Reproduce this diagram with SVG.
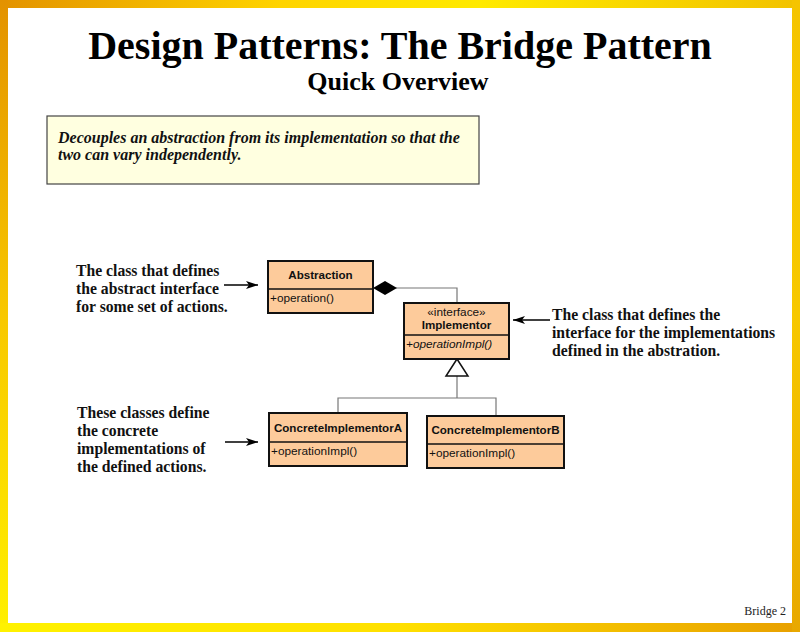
<svg xmlns="http://www.w3.org/2000/svg" width="800" height="632" viewBox="0 0 800 632">
  <defs>
    <linearGradient id="gTop" x1="0" y1="0" x2="1" y2="0">
      <stop offset="0" stop-color="#E39200"/>
      <stop offset="0.35" stop-color="#FFD400"/>
      <stop offset="0.6" stop-color="#FFEA00"/>
      <stop offset="1" stop-color="#F2C200"/>
    </linearGradient>
    <linearGradient id="gLeft" x1="0" y1="0" x2="0" y2="1">
      <stop offset="0" stop-color="#E39200"/>
      <stop offset="0.5" stop-color="#F8C800"/>
      <stop offset="1" stop-color="#FFF000"/>
    </linearGradient>
    <linearGradient id="gBottom" x1="0" y1="0" x2="1" y2="0">
      <stop offset="0" stop-color="#FFF200"/>
      <stop offset="0.5" stop-color="#FFE000"/>
      <stop offset="1" stop-color="#E8A000"/>
    </linearGradient>
    <linearGradient id="gRight" x1="0" y1="0" x2="0" y2="1">
      <stop offset="0" stop-color="#F5C400"/>
      <stop offset="0.5" stop-color="#F7C800"/>
      <stop offset="1" stop-color="#E8A800"/>
    </linearGradient>
    <marker id="arrow" viewBox="0 0 12 8" refX="12" refY="4" markerWidth="12" markerHeight="8" markerUnits="userSpaceOnUse" orient="auto">
      <path d="M0,0 L12,4 L0,8 L3,4 Z" fill="#000"/>
    </marker>
  </defs>
  <style>
    .title { font-family: "Liberation Serif", "Times New Roman", serif; font-weight: bold; fill: #000; }
    .note { font-family: "Liberation Serif", "Times New Roman", serif; font-weight: bold; font-size: 15.7px; fill: #111; }
    .desc { font-family: "Liberation Serif", "Times New Roman", serif; font-weight: bold; font-style: italic; font-size: 16px; fill: #111; }
    .cls { fill: #FDCB9B; stroke: #111; stroke-width: 2; }
    .div { stroke: #111; stroke-width: 1.5; }
    .cname { font-family: "Liberation Sans", Arial, sans-serif; font-weight: bold; font-size: 11.6px; fill: #111; }
    .member { font-family: "Liberation Sans", Arial, sans-serif; font-size: 11.8px; fill: #111; }
    .link { fill: none; stroke: #777; stroke-width: 1.2; }
    .pointer { stroke: #000; stroke-width: 1.5; fill: none; }
  </style>

  <!-- page frame -->
  <rect x="0" y="0" width="800" height="632" fill="#fff"/>
  <rect x="0" y="0" width="800" height="8" fill="url(#gTop)"/>
  <rect x="0" y="0" width="8" height="632" fill="url(#gLeft)"/>
  <rect x="0" y="623" width="800" height="9" fill="url(#gBottom)"/>
  <rect x="792" y="0" width="8" height="632" fill="url(#gRight)"/>

  <!-- heading -->
  <text class="title" x="400" y="59" font-size="40" text-anchor="middle">Design Patterns: The Bridge Pattern</text>
  <text class="title" x="398" y="90" font-size="26" text-anchor="middle">Quick Overview</text>

  <!-- intent box -->
  <g id="intent">
    <rect x="47" y="116" width="432" height="68" fill="#FFFFE0" stroke="#444" stroke-width="1.2"/>
    <text class="desc" x="58" y="143">Decouples an abstraction from its implementation so that the</text>
    <text class="desc" x="58" y="160">two can vary independently.</text>
  </g>

  <!-- connectors -->
  <g id="connectors">
    <!-- composition: Abstraction owns Implementor -->
    <polyline class="link" points="396,288 457,288 457,303"/>
    <path d="M373,288 L385,281 L397,288 L385,295 Z" fill="#000"/>
    <!-- realization to Implementor -->
    <polyline class="link" points="338,413 338,398 496,398 496,416"/>
    <line class="link" x1="457" y1="398" x2="457" y2="376"/>
    <path d="M457,359 L468,376 L446,376 Z" fill="#fff" stroke="#111" stroke-width="1.5"/>
    <!-- annotation pointers -->
    <line class="pointer" x1="224" y1="285" x2="258" y2="285" marker-end="url(#arrow)"/>
    <line class="pointer" x1="225" y1="442" x2="258" y2="442" marker-end="url(#arrow)"/>
    <line class="pointer" x1="550" y1="320" x2="513" y2="320" marker-end="url(#arrow)"/>
  </g>

  <!-- classes -->
  <g id="abstraction">
    <rect class="cls" x="268" y="261" width="105" height="52"/>
    <line class="div" x1="268" y1="289" x2="373" y2="289"/>
    <text class="cname" x="320.5" y="279" text-anchor="middle">Abstraction</text>
    <text class="member" x="270" y="302">+operation()</text>
  </g>

  <g id="implementor">
    <rect class="cls" x="404" y="303" width="105" height="56"/>
    <line class="div" x1="404" y1="335" x2="509" y2="335"/>
    <text class="member" x="456.5" y="316" text-anchor="middle">«interface»</text>
    <text class="cname" x="456.5" y="329" text-anchor="middle">Implementor</text>
    <text class="member" x="406" y="348" font-style="italic">+operationImpl()</text>
  </g>

  <g id="concreteA">
    <rect class="cls" x="269" y="413" width="138" height="53"/>
    <line class="div" x1="269" y1="442" x2="407" y2="442"/>
    <text class="cname" x="338" y="432" text-anchor="middle">ConcreteImplementorA</text>
    <text class="member" x="271" y="455">+operationImpl()</text>
  </g>

  <g id="concreteB">
    <rect class="cls" x="427" y="416" width="137" height="52"/>
    <line class="div" x1="427" y1="444" x2="564" y2="444"/>
    <text class="cname" x="495.5" y="434" text-anchor="middle">ConcreteImplementorB</text>
    <text class="member" x="429" y="457">+operationImpl()</text>
  </g>

  <!-- annotations -->
  <g id="note-abstraction">
    <text class="note" x="76" y="276">The class that defines</text>
    <text class="note" x="76" y="294">the abstract interface</text>
    <text class="note" x="76" y="312">for some set of actions.</text>
  </g>
  <g id="note-concrete">
    <text class="note" x="77" y="418">These classes define</text>
    <text class="note" x="77" y="436">the concrete</text>
    <text class="note" x="77" y="454">implementations of</text>
    <text class="note" x="77" y="472">the defined actions.</text>
  </g>
  <g id="note-implementor">
    <text class="note" x="552" y="320">The class that defines the</text>
    <text class="note" x="552" y="338">interface for the implementations</text>
    <text class="note" x="552" y="356">defined in the abstration.</text>
  </g>

  <text x="786" y="615" font-family="Liberation Serif, 'Times New Roman', serif" font-size="12" text-anchor="end" fill="#222">Bridge 2</text>
</svg>
